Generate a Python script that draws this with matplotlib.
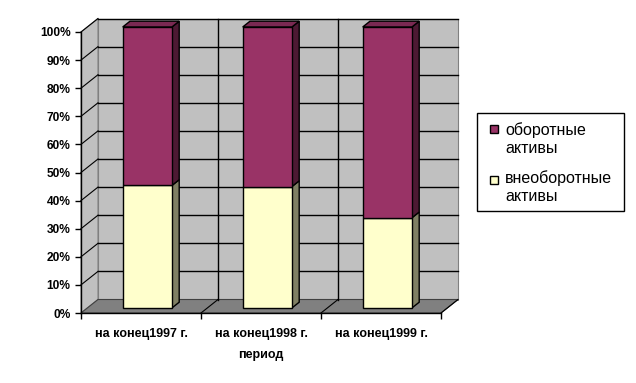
import matplotlib
matplotlib.use("Agg")
import matplotlib.pyplot as plt
from matplotlib.patches import Polygon, Rectangle

categories = ["на конец1997 г.", "на конец1998 г.", "на конец1999 г."]
vneoborotnye = [43.6, 43.2, 32.1]
oborotnye = [100 - v for v in vneoborotnye]
yticks = [0, 10, 20, 30, 40, 50, 60, 70, 80, 90, 100]
ytick_labels = [f"{t}%" for t in yticks]
series_names = ["оборотные\nактивы", "внеоборотные\nактивы"]
xlabel = "период"

W, H = 636, 383
fig = plt.figure(figsize=(W / 100, H / 100), dpi=100)
fig.patch.set_facecolor("white")
ax = fig.add_axes([81 / W, (H - 313) / H, 360 / W, 281 / H])
ax.set_xlim(0, 3)
ax.set_ylim(0, 100)
ax.set_facecolor("none")

def fx(px):
    return px / W

def fy(py):
    return 1 - py / H

# depth offset (full depth) in data units
DX = 17 * 3 / 360
DY = 13.5 * 100 / 281

GRAY = "#C0C0C0"
FLOOR = "#808080"

ax.add_patch(Polygon([(DX, DY), (3 + DX, DY), (3 + DX, 100 + DY), (DX, 100 + DY)],
                     closed=True, facecolor=GRAY, edgecolor="#808080", lw=0.8,
                     zorder=0, clip_on=False))
ax.add_patch(Polygon([(0, 0), (DX, DY), (DX, 100 + DY), (0, 100)],
                     closed=True, facecolor=GRAY, edgecolor="#808080", lw=0.8,
                     zorder=0, clip_on=False))
ax.add_patch(Polygon([(0, 0), (3, 0), (3 + DX, DY), (DX, DY)],
                     closed=True, facecolor=FLOOR, edgecolor="#404040", lw=0.8,
                     zorder=0.5, clip_on=False))

for t in yticks[1:]:
    ax.plot([DX, 3 + DX], [t + DY, t + DY], color="black", lw=1, zorder=1, clip_on=False)
    ax.plot([0, DX], [t, t + DY], color="black", lw=0.8, zorder=1, clip_on=False)
for i in range(1, 3):
    ax.plot([i + DX, i + DX], [DY, 100 + DY], color="black", lw=1, zorder=1, clip_on=False)
for i in range(1, 4):
    ax.plot([i, i + DX], [0, DY], color="black", lw=0.8, zorder=1, clip_on=False)

f1, f2 = 0.37, 0.80
bw = 0.41
colors = [
    ("#FFFFCC", "#808064", "#D0D0A8"),
    ("#993366", "#4D1933", "#7A2952"),
]
for i in range(len(categories)):
    x0 = i + 0.5 - bw / 2 + f1 * DX
    x1 = x0 + bw
    ox, oy = (f2 - f1) * DX, (f2 - f1) * DY
    bottom = f1 * DY
    segs = [vneoborotnye[i], oborotnye[i]]
    for k, v in enumerate(segs):
        fc, sc, tc = colors[k]
        y0 = bottom
        y1 = bottom + v
        ax.add_patch(Polygon([(x0, y0), (x1, y0), (x1, y1), (x0, y1)], closed=True,
                             facecolor=fc, edgecolor="black", lw=1, zorder=3, clip_on=False))
        ax.add_patch(Polygon([(x1, y0), (x1 + ox, y0 + oy), (x1 + ox, y1 + oy), (x1, y1)],
                             closed=True, facecolor=sc, edgecolor="black", lw=1, zorder=2.9,
                             clip_on=False))
        if k == len(segs) - 1:
            ax.add_patch(Polygon([(x0, y1), (x1, y1), (x1 + ox, y1 + oy), (x0 + ox, y1 + oy)],
                                 closed=True, facecolor=tc, edgecolor="black", lw=1,
                                 zorder=2.9, clip_on=False))
        bottom = y1

for s in ["top", "right"]:
    ax.spines[s].set_visible(False)
for s in ["left", "bottom"]:
    ax.spines[s].set_color("black")
    ax.spines[s].set_linewidth(1)
    ax.spines[s].set_zorder(4)

NARROW = ["Liberation Sans Narrow", "Liberation Sans"]
ax.set_yticks(yticks)
ax.set_yticklabels(ytick_labels, fontdict=dict(family=NARROW, weight="bold", size=8.6))
ax.set_xticks([0, 1, 2, 3])
ax.set_xticklabels([])
ax.set_xticks([0.5, 1.5, 2.5], minor=True)
ax.set_xticklabels(categories, minor=True,
                   fontdict=dict(family=NARROW, weight="bold", size=9))
ax.tick_params(axis="x", which="minor", length=0, pad=11)
ax.tick_params(axis="x", which="major", length=4, width=1, direction="out")
ax.tick_params(axis="y", length=4, width=1, direction="out", pad=3.5)
ax.set_xlabel(xlabel, fontdict=dict(family=NARROW, weight="bold", size=9), labelpad=6)

# legend (drawn by hand to match the original layout)
fig.patches.append(Rectangle((fx(477), fy(211)), fx(624) - fx(477), fy(113) - fy(211),
                             transform=fig.transFigure, facecolor="white",
                             edgecolor="black", lw=1, zorder=5))
leg_colors = [colors[1][0], colors[0][0]]
marker_tops = [125, 176]
baselines = [135, 183.5]
for name, col, mt, bl in zip(series_names, leg_colors, marker_tops, baselines):
    fig.patches.append(Rectangle((fx(490), fy(mt + 8)), fx(8), 8 / H,
                                 transform=fig.transFigure, facecolor=col,
                                 edgecolor="black", lw=1, zorder=6))
    l1, l2 = name.split("\n")
    fig.text(fx(505), fy(bl), l1, family="Liberation Sans", size=11.5,
             va="baseline", ha="left", zorder=6)
    fig.text(fx(505), fy(bl + 17.5), l2, family="Liberation Sans", size=11.5,
             va="baseline", ha="left", zorder=6)

fig.savefig("out.png", dpi=100)
